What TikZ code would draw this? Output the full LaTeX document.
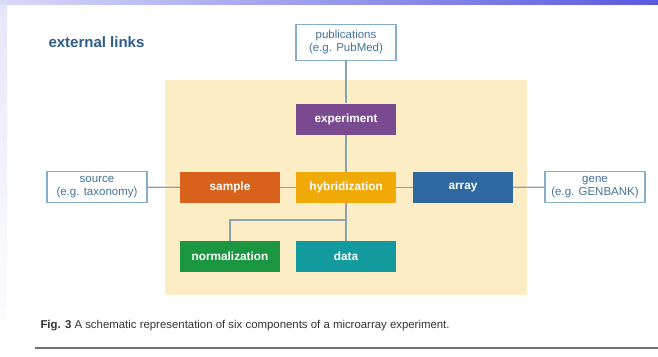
\documentclass[tikz,border=0pt]{standalone}
\usepackage{fontspec}
\setmainfont{Liberation Sans}
\definecolor{expcol}{HTML}{7A4A90}
\definecolor{samplecol}{HTML}{D8621C}
\definecolor{hybcol}{HTML}{F0AA08}
\definecolor{arraycol}{HTML}{2F68A0}
\definecolor{normcol}{HTML}{1A9640}
\definecolor{datacol}{HTML}{129A9E}
\definecolor{bgyellow}{HTML}{FDEDC4}
\definecolor{linkblue}{HTML}{86AECB}
\definecolor{linktext}{HTML}{46729E}
\definecolor{linegray}{HTML}{8AA2B4}
\definecolor{headblue}{HTML}{2C5C8C}
\begin{document}
\begin{tikzpicture}[x=1pt,y=-1pt,
    comp/.style={minimum width=100pt,minimum height=31pt,inner sep=0pt,text=white,
        font=\fontsize{11.8}{13}\selectfont\bfseries},
    extbox/.style={draw=linkblue,line width=1.1pt,fill=white,minimum width=100pt,
        minimum height=31pt,inner sep=0pt,align=center,text=linktext,
        font=\fontsize{11.5}{13}\selectfont},
    link/.style={draw=linegray,line width=1.3pt}]
\useasboundingbox (0,0) rectangle (658,356);
\fill[white] (0,0) rectangle (658,356);
\shade[top color=black!20!blue!10, bottom color=white] (0,0) rectangle (7,356);
\shade[left color=black!15!blue!15, right color=black!20!blue!65] (0,0) rectangle (658,4.5);
\fill[bgyellow] (165,80) rectangle (527,295);
\node[anchor=base west,text=headblue,font=\fontsize{15}{17}\selectfont\bfseries] (ext) at (45,47.5) {external links};
% components
\node[comp,fill=expcol] (exp) at (346,119) {experiment};
\node[comp,fill=samplecol] (sample) at (230,187.5) {sample};
\node[comp,fill=hybcol] (hyb) at (346,187.5) {hybridization};
\node[comp,fill=arraycol] (array) at (463,187.5) {array};
\node[comp,fill=normcol] (norm) at (230,256.5) {normalization};
\node[comp,fill=datacol] (data) at (346,256.5) {data};
% external links
\node[extbox,minimum height=36pt] (pub) at (346,42.5) {publications\\(e.g. PubMed)};
\node[extbox] (source) at (97,187) {source\\(e.g. taxonomy)};
\node[extbox] (gene) at (595,187) {gene\\(e.g. GENBANK)};
\draw[link] (pub)--(exp);
\draw[link] (exp)--(hyb);
\draw[link] (source)--(sample);
\draw[link] (sample)--(hyb);
\draw[link] (hyb)--(array);
\draw[link] (array)--(gene);
\draw[link] (hyb)--(data);
\coordinate (fork) at (346,220);
\draw[link] (fork)-|(norm.north);
\node[anchor=base west,text=black!80,font=\fontsize{11.4}{13}\selectfont] (cap) at (37,328)
    {\textbf{Fig. 3} A schematic representation of six components of a microarray experiment.};
\draw[black!55,line width=2pt] (35,348)--(658,348);
\end{tikzpicture}
\end{document}
